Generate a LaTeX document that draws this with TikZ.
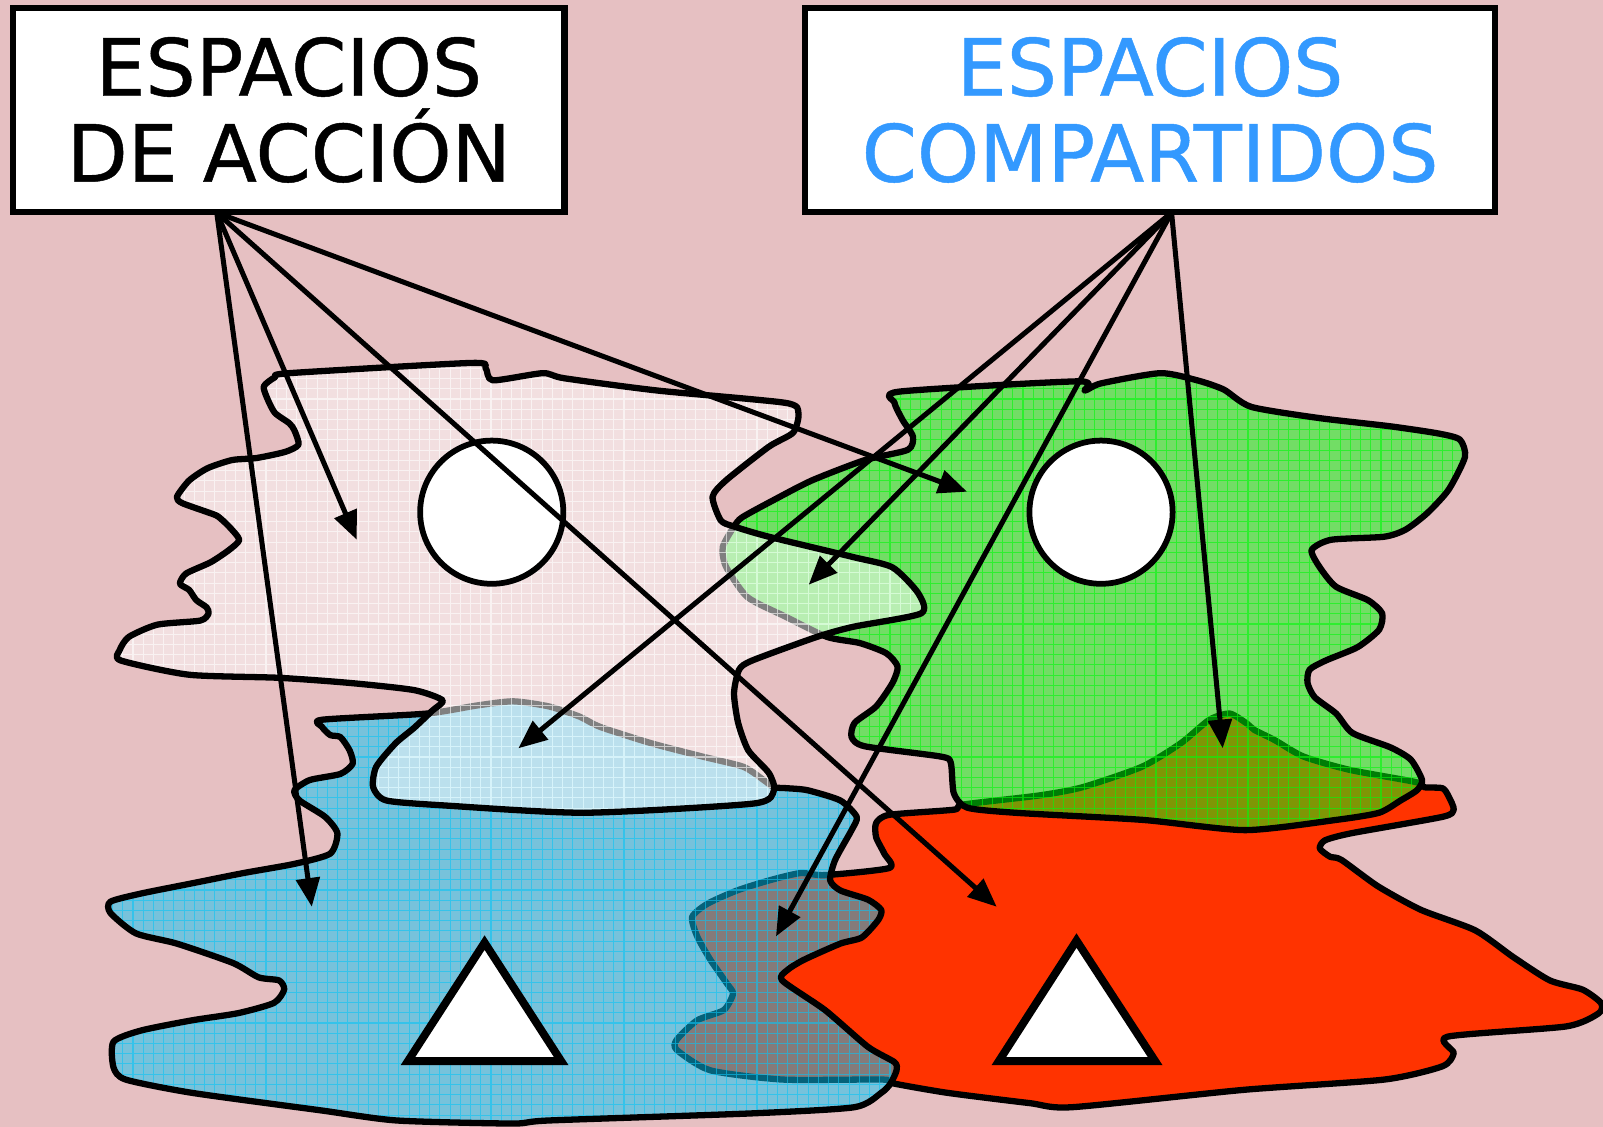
\documentclass[tikz,border=0pt]{standalone}
\usepackage{fontspec}
\setmainfont{DejaVu Sans}
\newfontfamily\labelfont{DejaVu Sans}[FakeBold=0.6]
\usetikzlibrary{arrows.meta}
\definecolor{bgpink}{RGB}{230,192,194}
\definecolor{redfill}{RGB}{255,51,0}
\definecolor{bluefill}{RGB}{10,196,245}
\definecolor{greenfill}{RGB}{0,250,10}
\definecolor{textblue}{RGB}{51,153,255}
\begin{document}
\begin{tikzpicture}[x=0.01cm,y=-0.01cm,
  blobline/.style={draw=black,line width=1.75pt,line join=round},
  gridlines/.style={line width=0.3pt,step=0.1cm},
  arr/.style={-{Triangle[length=8pt,width=6.5pt]},line width=1.4pt},
  labelbox/.style={draw=black,fill=white,line width=1.7pt,align=center,inner sep=0pt,
    font=\labelfont\fontsize{22}{23.9}\selectfont},
  disc/.style={circle,draw=black,fill=white,line width=1.6pt,minimum size=1.4cm,inner sep=0pt},
  tri/.style={draw=black,fill=white,line width=2.2pt,line join=miter}]
\fill[bgpink] (0,0) rectangle (1568,1102);
\useasboundingbox (0,0) rectangle (1568,1102);

\def\redblob{plot[smooth cycle,tension=0.4] coordinates{(857,805) (870,797) (933,792) (942,787) (1017,778) (1059,770) (1117,750) (1155,727) (1183,704) (1203,698) (1220,708) (1227,714) (1247,724) (1275,740) (1320,753) (1385,765) (1393,770) (1411,771) (1417,779) (1422,792) (1411,799) (1322,815) (1296,822) (1291,830) (1301,838) (1312,841) (1348,867) (1390,890) (1443,910) (1480,936) (1516,959) (1548,968) (1566,981) (1564,991) (1532,1004) (1416,1014) (1422,1030) (1411,1043) (1354,1056) (1217,1066) (1049,1083) (1007,1079) (927,1069) (875,1060) (864,1056) (766,1056) (695,1047) (662,1027) (662,1017) (682,998) (708,988) (717,972) (711,962) (695,939) (682,916) (677,897) (692,884) (721,871) (753,861) (783,854) (807,856) (870,849) (865,835) (857,819)}}

\def\blueblob{plot[smooth cycle,tension=0.4] coordinates{(315,704) (417,698) (467,690) (502,686) (537,691) (567,701) (587,711) (637,727) (687,740) (727,750) (747,763) (757,770) (770,771) (790,773) (822,783) (838,799) (833,812) (817,841) (812,861) (822,871) (849,880) (862,890) (859,900) (843,917) (822,923) (786,939) (770,949) (765,959) (807,988) (849,1024) (875,1039) (877,1047) (871,1060) (862,1069) (836,1083) (737,1089) (537,1096) (502,1099) (388,1096) (313,1086) (188,1069) (123,1056) (111,1044) (111,1019) (138,1008) (188,998) (233,991) (268,981) (278,968) (273,959) (253,956) (228,942) (173,923) (133,913) (108,893) (108,882) (138,874) (188,864) (238,854) (288,845) (323,835) (330,815) (318,799) (293,783) (288,773) (303,763) (333,757) (345,747) (342,734) (333,721) (323,719) (315,711)}}

\def\greenblob{plot[smooth cycle,tension=0.4] coordinates{(880,383) (1055,373) (1061,382) (1077,375) (1135,365) (1171,372) (1197,381) (1224,398) (1291,409) (1360,417) (1407,424) (1428,430) (1433,447) (1417,479) (1396,502) (1375,518) (1354,525) (1302,528) (1283,538) (1291,555) (1307,574) (1338,587) (1352,600) (1349,616) (1328,633) (1297,646) (1281,655) (1279,668) (1286,682) (1307,698) (1323,717) (1360,731) (1380,743) (1391,763) (1386,773) (1370,783) (1349,795) (1307,802) (1218,812) (1118,802) (993,795) (946,790) (933,776) (930,746) (920,740) (846,730) (833,721) (836,707) (857,691) (873,668) (878,652) (867,639) (841,629) (809,623) (768,603) (731,584) (710,554) (707,535) (718,515) (726,506) (757,489) (794,470) (846,450) (888,440) (893,427) (883,411) (875,394)}}

\def\pinkblob{plot[smooth cycle,tension=0.4] coordinates{(258,378) (269,369) (283,365) (461,355) (475,360) (482,372) (531,365) (552,370) (643,382) (768,394) (781,404) (776,423) (752,437) (710,470) (697,486) (705,509) (718,515) (752,525) (835,545) (873,555) (898,580) (901,600) (835,613) (799,623) (736,646) (723,655) (718,678) (722,707) (732,734) (752,756) (757,773) (737,786) (572,795) (437,788) (378,783) (365,770) (368,750) (387,727) (405,712) (423,695) (433,685) (405,675) (342,668) (273,663) (185,660) (118,646) (117,636) (126,623) (154,611) (196,607) (204,600) (202,594) (192,587) (185,577) (176,571) (182,561) (206,550) (224,538) (234,528) (224,515) (213,505) (203,501) (178,492) (173,486) (185,470) (203,458) (227,450) (251,448) (279,442) (292,435) (288,421) (283,414) (269,404) (262,391)}}

% red region (bottom layer)
\filldraw[fill=redfill,blobline] \redblob;

% blue region
\fill[bluefill,fill opacity=0.5] \blueblob;
\begin{scope}
  \clip \blueblob;
  \draw[gridlines,bluefill,opacity=0.6] (0,1102) grid (1568,0);
\end{scope}
\draw[blobline] \blueblob;

% green region
\fill[greenfill,fill opacity=0.5] \greenblob;
\begin{scope}
  \clip \greenblob;
  \draw[gridlines,greenfill,opacity=0.6] (0,1102) grid (1568,0);
\end{scope}
\draw[blobline] \greenblob;

% pink (white) region, top layer
\fill[white,fill opacity=0.5] \pinkblob;
\begin{scope}
  \clip \pinkblob;
  \draw[gridlines,white,opacity=0.6] (0,1102) grid (1568,0);
\end{scope}
\draw[blobline] \pinkblob;

% circles and triangles
\node[disc] (c1) at (481,501) {};
\node[disc] (c2) at (1077,501) {};
\draw[tri] (474,922) -- (399,1038) -- (549,1038) -- cycle;
\draw[tri] (1053,920) -- (977,1038) -- (1130,1038) -- cycle;

% label boxes
\node[labelbox,minimum width=5.39cm,minimum height=1.99cm] (box1) at (282.5,107.5) {ESPACIOS\\DE ACCIÓN};
\node[labelbox,text=textblue,minimum width=6.74cm,minimum height=1.99cm] (box2) at (1125,107.5) {ESPACIOS\\COMPARTIDOS};

% arrow origins and tips
\coordinate (o1) at (212,208);
\coordinate (o2) at (1146,208);
\coordinate (a1) at (349,528);
\coordinate (a2) at (305,887);
\coordinate (a3) at (946,481);
\coordinate (a4) at (975,887);
\coordinate (b1) at (791,572);
\coordinate (b2) at (507,732);
\coordinate (b3) at (759,916);
\coordinate (b4) at (1196,732);

\draw[arr] (o1) -- (a1);
\draw[arr] (o1) -- (a2);
\draw[arr] (o1) -- (a3);
\draw[arr] (o1) -- (a4);
\draw[arr] (o2) -- (b1);
\draw[arr] (o2) -- (b2);
\draw[arr] (o2) -- (b3);
\draw[arr] (o2) -- (b4);
\end{tikzpicture}
\end{document}
